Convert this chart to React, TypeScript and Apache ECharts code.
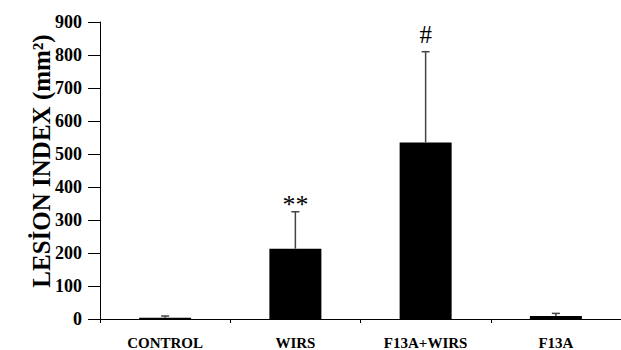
import React, { useEffect, useRef } from "react";
import * as echarts from "echarts";

const categories = ["CONTROL", "WIRS", "F13A+WIRS", "F13A"];
const means = [4, 213, 535, 9];
const errorTops = [9, 325, 810, 17];
const annotations = ["", "**", "#", ""];
const yTicks = { min: 0, max: 900, interval: 100 };

const SERIF = "'Liberation Serif', 'Times New Roman', serif";

export default function App() {
  const ref = useRef<HTMLDivElement>(null);
  useEffect(() => {
    if (!ref.current) return;
    const chart = echarts.init(ref.current, null, { renderer: "svg" });
    const errData = categories.map((_, i) => [i, means[i], errorTops[i]]);
    chart.setOption({
      animation: false,
      grid: { left: 100, top: 22, width: 524, height: 297.5, containLabel: false },
      xAxis: {
        type: "category",
        data: categories,
        axisLine: { lineStyle: { color: "#000", width: 1 } },
        axisTick: { show: true, length: 4, lineStyle: { color: "#000" }, alignWithLabel: false },
        axisLabel: {
          color: "#000",
          fontFamily: SERIF,
          fontWeight: "bold",
          fontSize: 15,
          margin: 16,
          interval: 0,
        },
        splitLine: { show: false },
      },
      yAxis: {
        type: "value",
        min: yTicks.min,
        max: yTicks.max,
        interval: yTicks.interval,
        axisLine: { show: true, lineStyle: { color: "#000", width: 1 } },
        axisTick: { show: true, length: 12, lineStyle: { color: "#000" } },
        axisLabel: {
          color: "#000",
          fontFamily: SERIF,
          fontWeight: "bold",
          fontSize: 18,
          margin: 18,
        },
        splitLine: { show: false },
      },
      graphic: [
        {
          type: "text",
          x: 41,
          y: 161,
          rotation: Math.PI / 2,
          style: {
            text: "LESİON INDEX (mm²)",
            font: `bold 25px ${SERIF}`,
            fill: "#000",
            textAlign: "center",
            textVerticalAlign: "middle",
          },
        },
      ],
      series: [
        {
          type: "bar",
          data: means,
          barWidth: 52,
          itemStyle: { color: "#000" },
        },
        {
          type: "custom",
          data: errData,
          z: 5,
          renderItem: (params: any, api: any) => {
            const i = api.value(0);
            const base = api.coord([i, api.value(1)]);
            const top = api.coord([i, api.value(2)]);
            const capHalf = 4;
            const children: any[] = [
              {
                type: "line",
                shape: { x1: top[0], y1: base[1], x2: top[0], y2: top[1] },
                style: { stroke: "#444", lineWidth: 1.5 },
              },
              {
                type: "line",
                shape: { x1: top[0] - capHalf, y1: top[1], x2: top[0] + capHalf, y2: top[1] },
                style: { stroke: "#444", lineWidth: 1.5 },
              },
            ];
            const ann = annotations[params.dataIndex];
            if (ann) {
              children.push({
                type: "text",
                x: top[0],
                y: ann === "#" ? top[1] - 5 : top[1] + 6,
                style: {
                  text: ann,
                  font: ann === "#" ? `25px ${SERIF}` : `26px ${SERIF}`,
                  fill: "#000",
                  textAlign: "center",
                  textVerticalAlign: "bottom",
                },
              });
            }
            return { type: "group", children };
          },
        },
      ],
    });
    return () => chart.dispose();
  }, []);
  return (
    <div
      ref={ref}
      style={{ position: "fixed", left: 0, top: 0, width: 621, height: 350, background: "#fff" }}
    />
  );
}
